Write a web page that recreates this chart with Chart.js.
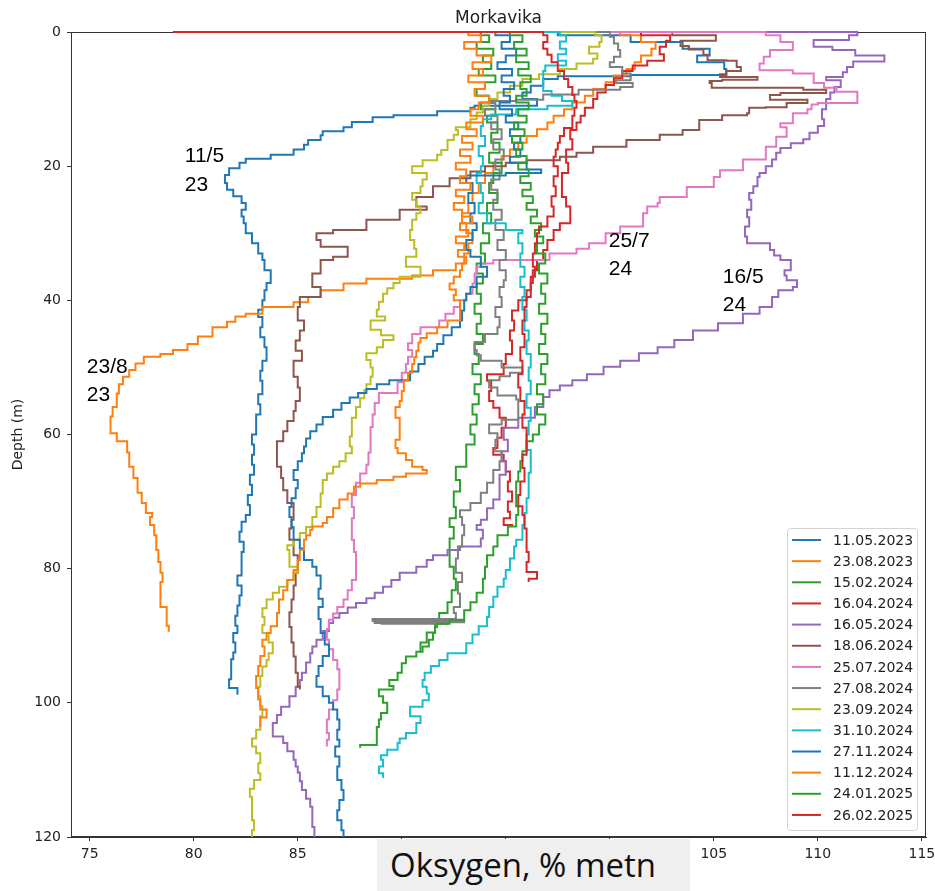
<!DOCTYPE html>
<html>
<head>
<meta charset="utf-8">
<script src="https://cdn.jsdelivr.net/npm/chart.js@4.4.1/dist/chart.umd.min.js"></script>
<style>
  html, body { margin: 0; padding: 0; background: #fff; }
  #wrap { position: relative; width: 935px; height: 891px; }
  #xlabel {
    position: absolute; left: 377px; top: 839px; width: 313px; height: 52px;
    background: #efefef; font-family: "Open Sans", sans-serif; font-size: 33px;
    line-height: 52px; color: #111; box-sizing: border-box; padding-left: 13px;
  }
</style>
</head>
<body>
<div id="wrap">
  <canvas id="oxyChart" width="935" height="891"></canvas>
  <div id="xlabel">Oksygen, % metn</div>
</div>
<script>
// [depth (m), oxygen (% saturation)]
const p20230511 = [[0,83.2],[0.5,97.5],[1.5,101],[2.5,103.5],[3.5,104.8],[4.5,104.2],[5.5,105.5],[6.4,105.6],[6.6,101],[7,97.5],[8,96.8],[9,96.2],[10,95.8],[11,96.5],[11.3,93.5],[11.8,93.3],[12.4,91.7],[12.7,89.6],[13.4,88.6],[14.2,87.6],[14.8,87.2],[15.4,86.2],[16.1,86.1],[16.8,85.5],[17.5,85.3],[18.3,84.8],[18.9,83.7],[19.5,82.5],[20.3,82.2],[21.3,81.7],[22.5,81.5],[23.5,81.6],[24.5,81.9],[25.5,82.3],[26.5,82.5],[27.5,82.3],[28.5,82.4],[30,82.5],[31.5,82.8],[33,83.1],[34,83.3],[35.5,83.4],[37.4,83.7],[38.5,83.5],[40,83.4],[41.4,83.3],[42.5,83.1],[44,83.3],[45.5,83.2],[47,83.4],[49,83.5],[50.5,83.3],[52,83.2],[54,83.3],[55.5,83.1],[57,83.2],[58.5,83.0],[60,83.0],[61.5,82.8],[63,82.9],[64.5,82.8],[66,82.9],[67.5,82.7],[69,82.8],[70.5,82.6],[72,82.7],[73,82.5],[74.5,82.3],[76,82.2],[77.5,82.4],[79,82.3],[81,82.3],[82.5,82.1],[84,82.3],[85.5,82.2],[87,82.1],[88.5,82.0],[89.6,82.1],[91,81.9],[92.5,82.0],[93.5,81.9],[95,81.8],[96.5,81.8],[97.8,81.7],[98.8,82.1]];
const p20230823 = [[0,95],[0.5,100.5],[1.5,101.5],[2.5,102.2],[3.5,102],[4.5,101.5],[5.5,101.2],[6.5,100.8],[7.5,100.2],[8.5,99.8],[9.5,99.2],[10.5,98.8],[11.5,98.2],[12.5,97.8],[13.5,97.3],[14.5,97],[15.5,96.5],[16.5,96],[17.5,95.6],[18.5,95.2],[19.5,94.8],[21,94.4],[22.5,94],[24,93.7],[25.5,93.4],[27,93.2],[28.5,92.9],[30,93.1],[31.5,93.4],[33,93.2],[34.5,93.0],[35.5,92.6],[36.3,91.5],[36.8,90.5],[37.5,88.3],[38.5,87.2],[39.5,86.1],[40.3,85.5],[41,84.8],[42,83.3],[42.4,82.5],[43.2,82],[44,81.6],[45.4,80.9],[46.5,80.2],[47.4,79.7],[48,79],[48.4,78.4],[49.4,77.6],[50.4,77.2],[51.4,76.9],[52.5,76.6],[53.9,76.4],[55.9,76.3],[57.3,76.1],[58.5,76.0],[59.8,76.0],[61,76.3],[62.7,76.8],[64.8,76.9],[66.5,77.1],[68.7,77.3],[70.2,77.5],[71.7,77.7],[72.3,78.0],[73.5,77.9],[75,78.1],[77.2,78.2],[79,78.3],[80.6,78.4],[82,78.5],[83.5,78.4],[85.7,78.4],[87,78.7],[88.5,78.7],[89.4,78.8]];
const p20240215 = [[0,88.2],[0.5,93.8],[1.5,94.2],[2.5,93.6],[3.5,94.4],[4.5,93.9],[5.5,94.3],[6.5,93.7],[7.5,94.5],[8.5,94.0],[9.5,93.6],[10.5,94.2],[11.5,93.8],[12.5,94.5],[13.5,94.1],[15,94.6],[16.5,94.3],[18,94.7],[19.5,94.2],[21,94.8],[22.5,94.4],[24,94.2],[25.5,94.6],[27,94.1],[28.5,94.3],[30,93.9],[31.5,94.2],[33,93.8],[34.5,94.0],[36,93.6],[37.5,93.9],[39,93.6],[40.5,93.8],[42,93.5],[43.5,93.8],[45,93.6],[46.5,93.9],[48,93.5],[49.5,93.7],[51,93.4],[52.5,93.8],[54,93.5],[55.5,93.7],[57,93.4],[58.5,93.6],[60,93.3],[61.5,93.5],[62.7,93.1],[64.8,93.1],[66.8,92.6],[68.5,92.8],[70.8,92.5],[72.5,92.6],[73.8,92.3],[75.5,92.5],[77.5,92.3],[79.7,92.3],[81.5,92.5],[83.2,92.6],[85,92.4],[86.6,92.2],[88,91.8],[89.5,91.6],[91,91.2],[92.5,90.9]];
const p20240416 = [[0,97],[0.5,101.5],[1.3,102.9],[2.2,102.7],[3.3,102.4],[4.3,102.6],[5,101.8],[5.8,101.1],[6.9,100.6],[7.9,100.2],[9,99.8],[10,99.4],[11.3,99.2],[12.5,98.8],[13.5,98.6],[14.6,98.4],[16,98.1],[17.5,98.2],[19.5,97.9],[21,98.0],[22.5,97.7],[24.6,97.7],[26,97.9],[27.5,98.1],[28.5,98.1],[29.5,97.6],[31,97.3],[32.5,97.0],[34,96.8],[35.5,96.5],[37.4,96.3],[38.5,96.2],[40,96.0],[41.5,95.6],[43,95.3],[44.5,95.4],[46,95.2],[48,95.3],[49.5,95.0],[51,94.9],[52,94.1],[53.5,94.3],[55,94.2],[56,94.4],[57.5,94.7],[59,95.0],[60.5,94.8],[62,94.6],[63,94.4],[64,94.9],[65.5,95.0],[67,95.2],[68.5,95.1],[70,95.3],[71.5,95.1],[72.5,95.2],[73.5,94.9],[73.7,95.3]];
const p20240516 = [[0,106.5],[0.5,111.9],[1.2,111.5],[2.2,109.8],[2.7,110.7],[3.5,111.8],[4.4,113.2],[5.2,111.7],[6,111.4],[6.7,111.2],[7.2,110.4],[8.2,111.1],[9,110.8],[10,110.6],[11.5,110.4],[13,110.2],[14,110.3],[15,110.0],[16,109.6],[16.6,109.3],[17.3,108.7],[18,108.2],[19,108.0],[20,107.8],[21,107.5],[21.6,107.2],[23,107.1],[24,106.9],[25,106.7],[26.5,106.8],[27.6,106.6],[29,106.7],[30.5,106.5],[31.5,106.6],[32.5,107.7],[33.3,107.9],[34,108.2],[35.5,108.7],[36.3,108.4],[37,108.5],[38,109.0],[38.5,108.8],[39.5,108.1],[41,107.8],[42,107.2],[43.4,106.4],[44.5,105.2],[45.9,104.0],[47,103.1],[47.9,102.3],[49,101.4],[49.9,100.5],[51,99.7],[51.9,98.9],[52.7,98.2],[53.4,97.6],[54.4,97.1],[55.9,96.8],[57.5,96.4],[59,95.6],[60.8,94.9],[62.5,95.1],[64,94.8],[66,95.0],[68,94.7],[69.7,94.7],[71,94.4],[72.7,94.1],[73.5,93.8],[74.2,93.6],[75.5,93.9],[76.7,93.8],[77.2,92.8],[78,92.2],[78.7,91.5],[79.7,91.2],[80.6,90.7],[81.7,89.9],[82.7,89.5],[83.6,89.1],[84.4,88.7],[85.1,88.3],[85.8,87.8],[86.6,87.4],[87.3,87.0],[88.1,86.7],[89.3,86.5],[90.6,86.2],[91.6,85.9],[92.6,85.7],[94,85.6],[95.5,85.4],[96.6,85.2],[97.6,85.1],[99,84.9],[100.6,84.6],[101.8,84.2],[103,84.0],[104,83.8],[105,83.8],[106,84.3],[107.2,84.5],[108.5,84.8],[109.5,84.9],[110.4,85.0],[111.7,85.1],[113,85.2],[114.3,85.4],[115.5,85.6],[117,85.7],[118.5,85.7],[120,85.8]];
const p20240618 = [[0,96],[0.5,103],[1.3,105.1],[2.1,103.4],[2.6,103.8],[3.4,104.5],[4.2,104.7],[4.3,105.6],[5.2,106.1],[5.8,106.3],[6.3,105.6],[6.7,105.3],[7.1,107.1],[7.3,105.4],[7.6,104.8],[8.3,104.9],[8.6,109.3],[9.1,110.4],[9.4,108.2],[10.1,107.7],[10.6,109.5],[11.2,108.5],[11.3,107.5],[12.1,106.7],[12.4,106.6],[13.1,105.4],[14.3,104.3],[14.6,104.3],[15.3,103.5],[16.1,102.4],[17.1,100.8],[18,99.2],[18.6,98.4],[19.1,97.6],[19.5,96.0],[20,95.0],[20.8,94.0],[21.8,93.3],[23,92.3],[24.6,91.5],[26,90.7],[26.5,91.2],[27.6,89.9],[28,89.9],[29.5,88.3],[30,86.7],[31,85.9],[32,86.1],[33.5,87.4],[34,86.7],[36,86.1],[38,85.7],[39.5,86.1],[41,85.1],[43,85.0],[44.5,85.3],[46,85.1],[47.5,84.9],[49,85.2],[51.4,84.8],[53,85.0],[55,85.1],[56.5,84.9],[58,84.8],[59.5,84.5],[61,84.3],[62.3,84.0],[64.8,84.0],[66.5,84.2],[68.3,84.3],[70.2,84.5],[72.7,84.8],[74,84.7],[75.7,84.6],[78,84.8],[80.6,85.0],[82.5,84.9],[84.6,84.8],[86.5,84.7],[88.7,84.6],[91,84.7],[93.1,84.8],[95.5,84.9],[97.6,85.0],[98,85.1]];
const p20240725 = [[0,100],[0.5,107.5],[1.5,108.2],[2.7,108.8],[3.7,107.7],[4.7,107.4],[5.7,107.2],[6.2,108.8],[7.6,109.8],[8.3,110.3],[8.9,110.9],[9.7,111.9],[10.6,111.9],[10.8,110.0],[11.5,109.7],[12.1,109.5],[13.6,108.8],[14.2,108.2],[15.6,108.5],[17.1,108.0],[19,107.5],[20.6,106.4],[21.6,105.3],[23.1,105.0],[24.6,103.7],[25.5,102.4],[26,102.3],[27,101.8],[28,101.6],[29,101.6],[30,100.5],[31.5,99.8],[32.3,99.0],[33,98.4],[34,97.1],[34.5,94.4],[35,93.8],[36,93.6],[37.5,93.5],[39,93.4],[40,93.1],[41,92.8],[42,92.5],[43,92.1],[44,91.8],[45,90.9],[46.4,90.5],[47.4,90.3],[48.4,90.5],[49.5,90.3],[50.8,90.2],[52.2,90.0],[53.8,89.8],[55.3,88.9],[57,88.7],[58.9,88.6],[60.8,88.5],[62.7,88.5],[64.5,88.4],[65.8,88.3],[67.2,88.0],[69,87.8],[70.8,87.6],[72.5,87.7],[74,87.6],[75.7,87.6],[77.5,87.7],[79.5,87.8],[81.7,87.8],[83.2,87.6],[84.6,87.4],[85.7,87.2],[86.7,86.9],[87.6,86.7],[89,86.5],[90.6,86.4],[92,86.5],[93.6,86.7],[95,86.9],[96.6,87.0],[98,87.0],[99.6,86.9],[101,86.7],[102.5,86.5],[103.5,86.4],[104.5,86.4],[105.5,86.5],[106.5,86.4]];
const p20240827 = [[0,96],[0.7,100.0],[1.7,100.2],[2.7,100.4],[3.7,100.5],[4.5,100.2],[5.2,100.0],[6.2,100.6],[7.2,101.0],[7.6,100.3],[8.2,101.1],[8.6,100.5],[9.3,98.5],[10.1,96.8],[10.3,95.5],[10.6,94.2],[11.5,94.5],[12.5,94.0],[13.5,94.6],[14.5,94.3],[16,94.8],[17.5,94.4],[19,94.9],[20.5,94.5],[22,94.7],[23.5,94.3],[25,94.6],[26.5,94.4],[28,94.8],[29.5,94.5],[31,94.9],[32.5,94.6],[34,95.0],[35.5,94.7],[37,95.0],[38,94.9],[39.5,94.7],[41,94.8],[42.5,94.5],[44,94.7],[45,94.6],[46.2,94.0],[47.4,93.5],[48.2,93.6],[49,93.8],[50,94.8],[50.8,95.8],[51.3,95.2],[51.9,94.7],[53,94.2],[54.2,94.6],[54.8,95.5],[56.3,95.6],[57.8,95.6],[58.5,94.8],[59.8,94.2],[60.8,94.6],[62.5,94.5],[64,94.8],[65.3,94.7],[67.2,94.4],[68.7,94.1],[70.2,93.8],[71.3,93.3],[72.3,92.8],[73.5,92.9],[75,93.0],[76.7,92.9],[78.5,92.7],[80.6,92.6],[82,92.9],[83.7,92.7],[85.7,92.8],[86.6,92.5],[87.5,92.6],[87.8,88.6],[88,93.0],[88.1,88.7],[88.2,92.2],[88.3,89.0]];
const p20240923 = [[0,97],[0.5,99.3],[1.5,99.6],[2.2,99.5],[3.2,99.0],[4,99.4],[4.7,99.2],[5.5,98.4],[6.3,97.6],[7,96.6],[8,95.8],[9,95.2],[10,94.6],[11,94.2],[12,93.9],[13,93.6],[14.2,93.3],[14.6,92.6],[15.3,92.7],[16.1,92.5],[17.6,92.2],[18.3,91.9],[19.1,91.7],[20,91.0],[21,90.5],[22,91.2],[23,91.0],[24,90.9],[25,90.5],[26,90.7],[27,90.9],[28,90.7],[29.5,90.5],[31,90.4],[32.3,90.6],[33.5,90.7],[35,90.2],[36.5,90.9],[37.4,89.9],[38.2,89.6],[39,89.3],[40.2,89.1],[41.4,88.9],[42.4,88.8],[43,89.2],[44.4,88.5],[45.2,89.0],[45.9,89.6],[47,89.1],[47.9,88.8],[48.9,88.3],[50,88.5],[51.4,88.6],[52.5,88.5],[53.4,88.3],[54.6,88.2],[55.9,88.0],[57.5,87.8],[58.9,87.6],[60.3,87.6],[61.8,87.5],[62.8,87.6],[64,87.3],[64.8,87.0],[65.8,86.7],[66.8,86.4],[68.8,86.2],[70.8,86.1],[72.3,85.9],[73.8,85.7],[74.7,85.4],[75.7,85.1],[76.5,84.8],[77.2,84.5],[78.5,84.6],[79.7,84.6],[80.6,85.0],[81.7,84.8],[82.7,84.5],[83.6,84.1],[84.6,83.8],[85.9,83.5],[87.2,83.3],[88.4,83.4],[89.6,83.3],[91,83.6],[92.6,83.8],[93.6,83.6],[94.6,83.5],[96,83.3],[97.6,83.2],[99,83.1],[100.5,83.2],[102,83.3],[104,83.2],[105.3,83.0],[106.5,82.8],[107.5,83.0],[109,83.2],[110.5,83.1],[111.5,83.2],[112.8,82.9],[114,82.7],[115.5,82.8],[117.5,82.8],[119,82.9],[120,82.8]];
const p20241031 = [[0,95],[0.5,97.6],[1.4,97.9],[2.5,97.6],[3.3,97.9],[4.3,97.5],[5,97.9],[5.8,96.9],[7,96.8],[8.8,96.8],[9.5,97.2],[10.3,97.7],[11,98.2],[11.5,97.0],[12.3,95.5],[13,94.3],[14,93.9],[15.5,93.8],[17,94.0],[18.5,93.7],[20,93.9],[21,93.8],[22.5,93.6],[24,93.8],[25.5,93.9],[27,93.7],[28.5,94.1],[29.5,95.0],[30,95.8],[31.5,95.6],[33,95.8],[35,95.7],[36.5,95.9],[38,95.7],[39.5,95.9],[41.4,95.8],[43,96.0],[44.5,95.9],[46,96.1],[48,96.0],[50,96.2],[52,96.1],[54,96.2],[56,96.0],[58,96.2],[60,96.1],[62.3,96.0],[64,96.2],[65.7,96.2],[67.5,96.1],[69.5,96.1],[71.7,96.0],[73.5,95.9],[75.7,95.8],[76.7,95.5],[78.5,95.4],[80.2,95.2],[81.5,95.0],[82.7,94.9],[84.2,94.6],[85.7,94.4],[87.2,94.2],[88.6,94.1],[89.8,93.7],[91.1,93.4],[92.6,93.1],[93.6,92.2],[94.5,91.8],[95.5,91.4],[96.6,91.1],[97.6,91.0],[98.6,91.2],[99.6,91.3],[100.6,91.0],[102,90.4],[103,90.9],[104.5,90.7],[105.3,90.2],[106,89.9],[107,89.8],[107.8,89.3],[108.5,89.0],[109.5,89.1],[110.5,88.9],[111.2,89.1]];
const p20241127 = [[0,83.2],[0.5,94.5],[1.5,95.2],[2.5,94.8],[3.5,95.5],[4.5,95.0],[5.5,94.6],[6.5,95.3],[7.5,94.8],[8.5,95.4],[9.5,94.9],[10.5,95.2],[11.5,94.7],[12.5,95.3],[13.5,95.0],[14.5,95.6],[15.5,95.2],[16.5,95.7],[17.5,95.4],[18.6,95.7],[19.5,95.2],[20.5,96.0],[21,96.7],[21.4,95.0],[22.5,93.1],[24,93.4],[25.5,93.2],[27,93.5],[28.5,93.3],[29.5,93.6],[31,93.4],[32.5,93.1],[33.5,93.3],[35,93.8],[36.5,94.1],[38,93.6],[39,93.3],[40,93.1],[41.5,93.0],[43,92.9],[44,92.8],[45.2,92.4],[46.5,92.0],[47.5,91.7],[48.4,91.5],[49.5,91.1],[50.6,90.8],[51.9,90.4],[52.5,89.4],[53.2,88.8],[53.8,88.3],[54.5,87.9],[55.3,87.5],[56.3,87.1],[57.4,86.7],[58.5,86.2],[59.5,85.9],[60.6,85.6],[61.8,85.4],[62.8,85.3],[64,85.2],[65.3,85.0],[66.8,84.8],[68,85.0],[69.5,84.9],[70.8,84.7],[72.3,84.6],[73.8,84.7],[75.7,84.8],[77,85.1],[78.7,85.3],[79.7,85.7],[81,85.9],[83,86.1],[84.5,86.0],[85.7,86.2],[87.5,86.0],[89.6,86.1],[91.3,86.3],[93,86.5],[94.5,86.2],[96,86.0],[97.6,85.9],[99,86.2],[100,86.5],[101,86.7],[102.5,86.9],[104,87.0],[105.5,86.9],[106.5,87.0],[108,86.8],[109.5,87.0],[111.5,86.9],[113,87.1],[114.5,87.2],[116,87.0],[117.5,86.9],[119,87.1],[120,87.2]];
const p20241211 = [[0,90],[0.5,93.2],[1.5,93.8],[2.5,93.0],[3.5,93.6],[4.5,94.3],[5.5,93.4],[6.5,93.9],[7.5,93.2],[8.5,94.0],[9.5,93.5],[10.5,94.2],[11.5,93.7],[12.5,93.3],[13.5,93.9],[14.5,93.1],[15.5,93.6],[16.5,92.9],[17.5,93.4],[18.5,92.8],[19.5,93.3],[20.5,92.6],[21.5,93.1],[22.5,92.8],[23.5,93.3],[24.5,92.6],[25.5,93.0],[26.5,92.5],[27.5,92.9],[28.5,93.4],[29.5,92.8],[30.5,93.2],[31.5,92.6],[32.5,93.0],[33.5,92.7],[34.5,93.1],[35.5,92.9],[36.5,92.8],[37.5,92.5],[38.4,92.3],[39.2,92.6],[40,92.5],[41.5,92.8],[43,92.8],[44,92.2],[44.9,91.7],[45.6,91.2],[46.3,90.9],[47.5,90.8],[48.5,90.7],[49.5,90.6],[50.8,90.5],[52,90.3],[53.5,90.1],[55,90.0],[55.9,89.9],[57.5,89.7],[59,89.9],[60.8,89.9],[62,89.7],[62.8,89.8],[63.8,90.2],[64.8,90.5],[65.3,91.0],[65.8,91.2],[66.3,90.2],[66.8,89.6],[67.3,88.8],[67.8,88.0],[68.8,87.7],[69.7,87.4],[71,87.0],[72.3,86.7],[73.2,86.4],[73.7,86.2],[74.2,85.7],[75,85.6],[75.7,85.4],[77.2,85.3],[78.7,85.1],[80.2,85.0],[81.7,84.8],[83.2,84.5],[84.6,84.3],[86.6,84.1],[88.6,84.0],[89.6,83.7],[90.6,83.5],[91.6,83.3],[93,83.4],[94.5,83.2],[96,83.1],[97.8,83.0],[99.5,83.1],[101,83.2],[102.2,83.5],[102.8,83.2],[103.6,83.2]];
const p20250124 = [[0,88.2],[0.5,95.2],[1.5,95.8],[2.5,95.4],[3.5,96.0],[4.5,95.5],[5.5,96.1],[6.5,95.6],[7.5,96.2],[8.5,95.7],[9.5,96.0],[10.5,95.5],[11.5,96.1],[12.5,95.6],[13.5,96.0],[14.5,95.4],[15.5,95.9],[16.5,95.3],[17.5,95.8],[18.5,95.5],[19.5,96.0],[20.5,95.6],[21.5,96.1],[22.5,95.7],[23.5,96.2],[24.5,95.8],[25.5,96.3],[26.5,96.0],[27.5,96.5],[28.5,96.2],[29.5,96.7],[30.5,96.4],[31.5,96.8],[33,96.5],[34.5,96.9],[36,96.6],[37.5,97.0],[39,96.7],[40.5,96.9],[42,96.6],[43.5,97.0],[45,96.7],[46.5,96.9],[48,96.6],[49.5,97.0],[51,96.7],[52.5,96.9],[54,96.5],[55.5,96.8],[57,96.5],[58.5,96.9],[60,96.6],[61,96.3],[62.5,96.0],[64,95.8],[65.5,95.7],[67,95.6],[68.5,95.5],[70.7,95.5],[72,95.6],[73.7,95.5],[75,95.1],[76.7,94.6],[78,94.4],[79.7,94.1],[81.5,94.0],[83.6,93.9],[85,93.6],[86.2,93.3],[87.6,93.0],[88.2,92.3],[88.7,91.7],[89.6,91.6],[90.6,91.5],[91.6,91.3],[92.4,91.0],[93.1,90.7],[94.1,90.2],[95.5,90.0],[96.6,89.8],[97.5,89.4],[98,89.6],[99,88.9],[100,89.1],[101.5,89.3],[102.5,89.0],[103.6,88.9],[105,88.8],[106.3,88.8],[106.7,88.0]];
const p20250226 = [[0,79],[0.5,96.8],[1.5,97.0],[2.5,96.8],[3.4,97.0],[4.5,97.2],[5.8,97.5],[7,97.8],[8.2,98.0],[9.4,98.2],[10.3,98.3],[11.3,98.4],[12.5,98.3],[13.5,98.2],[14.3,98.2],[15.5,97.8],[16.5,97.6],[17.5,97.5],[18.6,97.4],[20,97.3],[21.5,97.5],[23,97.3],[24.5,97.4],[26,97.2],[27.5,97.3],[29,97.0],[30,96.6],[31.5,96.5],[33,96.4],[35,96.3],[36.5,96.4],[38,96.2],[39.5,96.2],[41,96.0],[43,95.9],[45,95.8],[47,95.9],[49,95.7],[51,95.8],[53,95.6],[55,95.7],[57,95.9],[59,95.8],[61,96.0],[63,96.0],[65,95.8],[67,95.9],[69,95.7],[70.7,95.6],[72,95.8],[74,95.9],[75.7,96.0],[77.5,96.0],[79,96.1],[80.5,96.0],[81.5,96.5],[82,96.1]];

const dates = ["11.05.2023", "23.08.2023", "15.02.2024", "16.04.2024", "16.05.2024", "18.06.2024", "25.07.2024",
               "27.08.2024", "23.09.2024", "31.10.2024", "27.11.2024", "11.12.2024", "24.01.2025", "26.02.2025"];
const profiles = [p20230511, p20230823, p20240215, p20240416, p20240516, p20240618, p20240725,
                  p20240827, p20240923, p20241031, p20241127, p20241211, p20250124, p20250226];
const xTicks = [75, 80, 85, 90, 95, 100, 105, 110, 115];
const yTicks = [0, 20, 40, 60, 80, 100, 120];
const notes = [
  { lines: ["11/5", "23"], oxygen: 79.57, depth: 19.4 },
  { lines: ["23/8", "23"], oxygen: 74.86, depth: 50.8 },
  { lines: ["25/7", "24"], oxygen: 99.95, depth: 32.0 },
  { lines: ["16/5", "24"], oxygen: 105.43, depth: 37.4 },
];

const palette = ["#1f77b4", "#ff7f0e", "#2ca02c", "#d62728", "#9467bd", "#8c564b", "#e377c2",
                 "#7f7f7f", "#bcbd22", "#17becf", "#1f77b4", "#ff7f0e", "#2ca02c", "#d62728"];
const textColor = "#222";
const tickFont = { family: "DejaVu Sans", size: 14 };

const datasets = profiles.map((p, i) => ({
  label: dates[i],
  data: p.map(([d, o]) => ({ x: o, y: d })),
  borderColor: palette[i],
  backgroundColor: palette[i],
  borderWidth: 2,
  pointRadius: 0,
  stepped: true,
  fill: false,
  clip: { left: 1, top: 3, right: 1, bottom: 1 },
  order: profiles.length - i, // later profiles on top, like the original
}));

const frameAndText = {
  id: "frameAndText",
  beforeDatasetsDraw(chart) {
    // axes frame under the profiles so the surface readings show on the top edge
    const { ctx, chartArea: a } = chart;
    ctx.save();
    ctx.strokeStyle = "#333";
    ctx.lineWidth = 1;
    ctx.strokeRect(a.left + 0.5, a.top + 0.5, a.right - a.left - 1, a.bottom - a.top - 1);
    ctx.restore();
  },
  afterDatasetsDraw(chart) {
    const { ctx, chartArea: a, scales } = chart;
    ctx.save();

    // title
    ctx.fillStyle = textColor;
    ctx.font = '17px "DejaVu Sans"';
    ctx.textAlign = "center";
    ctx.textBaseline = "alphabetic";
    ctx.fillText("Morkavika", (a.left + a.right) / 2, 23);

    // date notes
    ctx.fillStyle = "#000";
    ctx.font = '21px "Liberation Sans"';
    ctx.textAlign = "left";
    notes.forEach((n) => {
      const x = scales.x.getPixelForValue(n.oxygen);
      const y = scales.y.getPixelForValue(n.depth);
      n.lines.forEach((t, k) => ctx.fillText(t, x, y + k * 28.5));
    });

    // legend
    const bx = 787, by = 528, bw = 130, bh = 302;
    ctx.fillStyle = "rgba(255,255,255,0.85)";
    ctx.strokeStyle = "#d3d3d3";
    ctx.beginPath();
    ctx.roundRect(bx + 0.5, by + 0.5, bw, bh, 3);
    ctx.fill();
    ctx.stroke();
    ctx.font = tickFont.size + 'px "DejaVu Sans"';
    ctx.textBaseline = "middle";
    chart.data.datasets.forEach((ds, i) => {
      const y = by + 12 + i * 21.15;
      ctx.strokeStyle = ds.borderColor;
      ctx.lineWidth = 2;
      ctx.beginPath();
      ctx.moveTo(bx + 5, y);
      ctx.lineTo(bx + 34, y);
      ctx.stroke();
      ctx.fillStyle = textColor;
      ctx.fillText(ds.label, bx + 46, y + 1);
    });
    ctx.restore();
  },
};

new Chart(document.getElementById("oxyChart").getContext("2d"), {
  type: "line",
  data: { datasets },
  options: {
    responsive: false,
    animation: false,
    devicePixelRatio: 1,
    layout: { padding: { top: 32, right: 9, left: 0, bottom: 0 } },
    plugins: { legend: { display: false }, tooltip: { enabled: false }, title: { display: false } },
    scales: {
      x: {
        type: "linear",
        min: 74.1,
        max: 115.2,
        afterBuildTicks: (axis) => { axis.ticks = xTicks.map((v) => ({ value: v })); },
        afterFit: (s) => { s.height = 54; s.paddingLeft = 0; s.paddingRight = 0; },
        grid: { drawOnChartArea: false, drawTicks: true, tickLength: 4, tickColor: "#333" },
        border: { display: true, color: "#333" },
        ticks: { font: tickFont, color: textColor, padding: 5, maxRotation: 0 },
      },
      y: {
        type: "linear",
        reverse: true,
        min: 0,
        max: 120,
        afterBuildTicks: (axis) => { axis.ticks = yTicks.map((v) => ({ value: v })); },
        afterFit: (s) => { s.width = 71; s.paddingTop = 0; s.paddingBottom = 0; },
        grid: { drawOnChartArea: false, drawTicks: true, tickLength: 4, tickColor: "#333" },
        border: { display: true, color: "#333" },
        ticks: { font: tickFont, color: textColor, padding: 6 },
        title: { display: true, text: "Depth (m)", font: tickFont, color: textColor, padding: { top: 10, bottom: 0 } },
      },
    },
  },
  plugins: [frameAndText],
});
</script>
</body>
</html>
